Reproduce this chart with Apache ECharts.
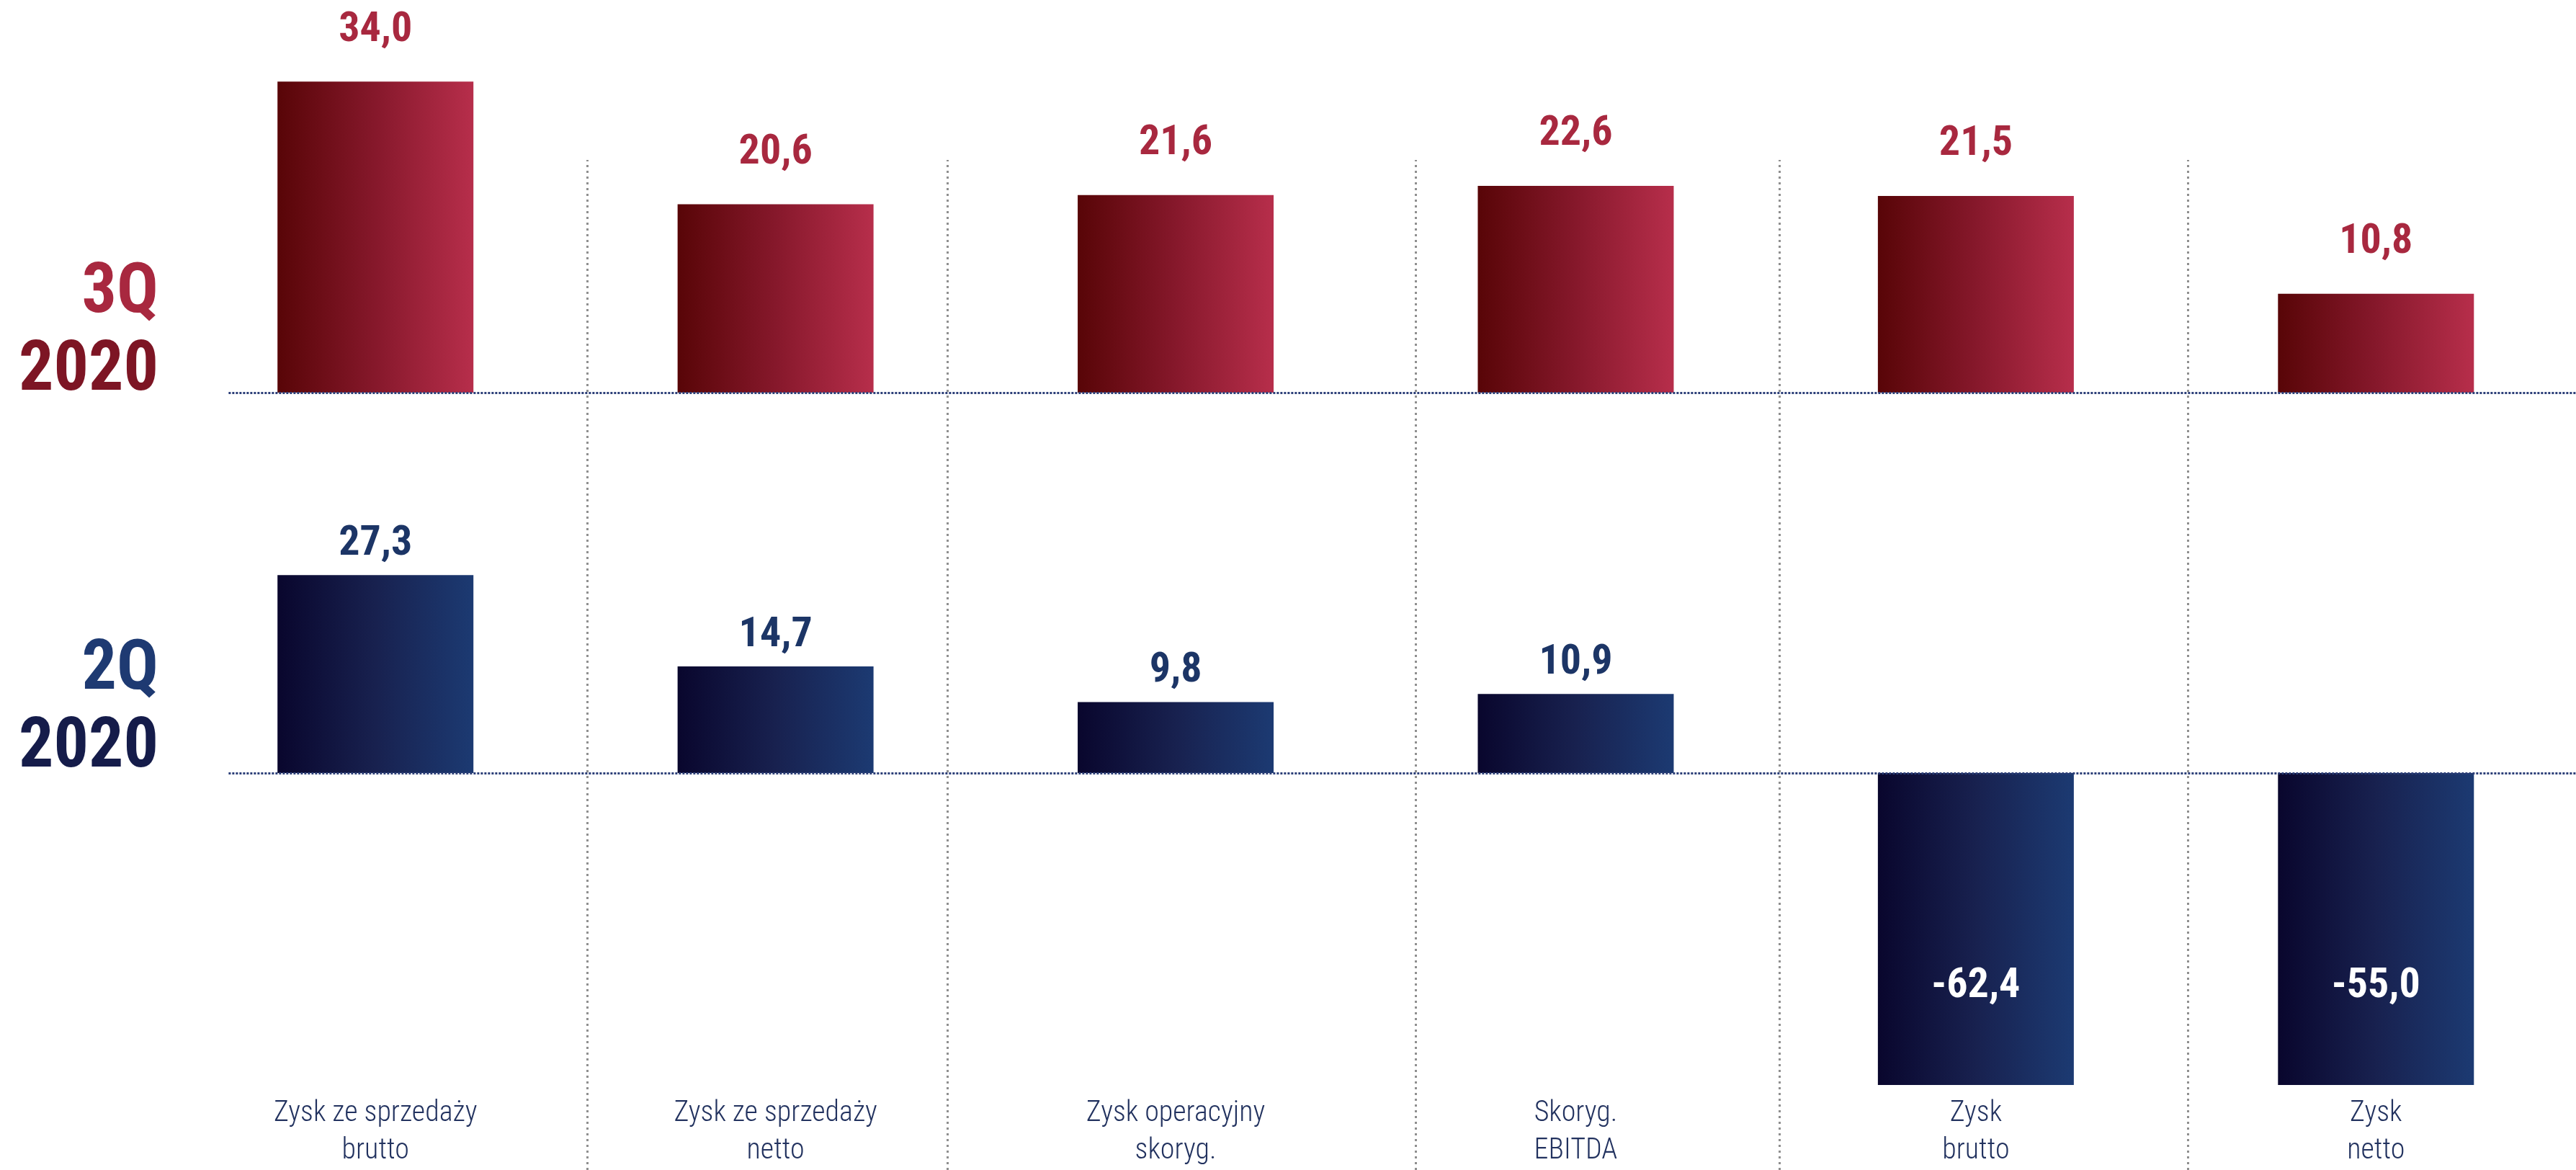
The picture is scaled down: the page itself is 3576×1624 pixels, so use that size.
<!DOCTYPE html>
<html>
<head>
<meta charset="utf-8">
<script src="https://cdn.jsdelivr.net/npm/echarts@6/dist/echarts.min.js"></script>
<style>
  html, body { margin: 0; padding: 0; background: #ffffff; }
  #chart { width: 3576px; height: 1624px; }
</style>
</head>
<body>
<div id="chart"></div>
<script>
// Categories (x axis) and results for two quarters, PLN m
const categories = [
  'Zysk ze sprzedaży\nbrutto',
  'Zysk ze sprzedaży\nnetto',
  'Zysk operacyjny\nskoryg.',
  'Skoryg.\nEBITDA',
  'Zysk\nbrutto',
  'Zysk\nnetto'
];
const q3_2020 = [34.0, 20.6, 21.6, 22.6, 21.5, 10.8];
const q2_2020 = [27.3, 14.7, 9.8, 10.9, -62.4, -55.0];

// Row captions on the left
const rowTitles = [
  { quarter: '3Q', year: '2020' },
  { quarter: '2Q', year: '2020' }
];

// ---- layout / style ----
const FONT = "Roboto, 'Liberation Sans', sans-serif";
const BOLD = 'bold condensed';
const LIGHT = '300 condensed';
const RED_LABEL = '#a8283f';
const BLUE_LABEL = '#1c3566';
const GRID_LEFT = 243.5;
const GRID_WIDTH = 3372;
// vertical dividers, expressed in category units (0 = first bar centre)
const dividerAt = [0.528, 1.428, 2.597, 3.508, 4.533];

const fmt = v => v.toFixed(1).replace('.', ',');

const redGradient = new echarts.graphic.LinearGradient(0, 0, 1, 0, [
  { offset: 0, color: '#580507' },
  { offset: 0.5, color: '#86182b' },
  { offset: 1, color: '#b72e4b' }
]);
const blueGradient = new echarts.graphic.LinearGradient(0, 0, 1, 0, [
  { offset: 0, color: '#09062d' },
  { offset: 0.5, color: '#18214f' },
  { offset: 1, color: '#1c3a72' }
]);

const hiddenCat = (gridIndex) => ({
  type: 'category', gridIndex, data: categories,
  axisLine: { show: false, onZero: false }, axisTick: { show: false },
  axisLabel: { show: false }, splitLine: { show: false }
});
const hiddenVal = (gridIndex) => ({
  type: 'value', gridIndex, min: -0.5, max: 5.5, show: false
});

const baselineStyle = { color: '#2c3f78', width: 3, type: [3, 2] };

const baseline = (xAxisIndex, yAxisIndex) => ({
  type: 'line', xAxisIndex, yAxisIndex, data: [], clip: false, silent: true,
  markLine: {
    silent: true, symbol: 'none', label: { show: false },
    lineStyle: baselineStyle, z: 5,
    data: [[{ coord: [-0.367, 0] }, { coord: [5.5, 0] }]]
  }
});

const titleFor = (t, top, light, dark) => ({
  text: '{a|' + t.quarter + '}\n{b|' + t.year + '}',
  left: 220, top, padding: 0,
  textAlign: 'right', textVerticalAlign: 'bottom',
  textStyle: {
    rich: {
      a: { fontFamily: FONT, fontSize: 96, fontWeight: BOLD, color: light, lineHeight: 108, align: 'right' },
      b: { fontFamily: FONT, fontSize: 96, fontWeight: BOLD, color: dark, lineHeight: 108, align: 'right' }
    }
  }
});

const chart = echarts.init(document.getElementById('chart'), null, { renderer: 'canvas' });

chart.setOption({
  backgroundColor: '#ffffff',
  animation: false,
  title: [
    titleFor(rowTitles[0], 571, '#a8283f', '#7d1524'),
    titleFor(rowTitles[1], 1094, '#1e3a72', '#151c4a')
  ],
  grid: [
    { left: GRID_LEFT, width: GRID_WIDTH, top: 37, height: 508 },
    { left: GRID_LEFT, width: GRID_WIDTH, top: 771, height: 745 },
    { left: GRID_LEFT, width: GRID_WIDTH, top: 222, height: 1402 }
  ],
  xAxis: [
    hiddenCat(0),
    {
      type: 'category', gridIndex: 1, data: categories, position: 'bottom',
      axisLine: { show: false, onZero: false }, axisTick: { show: false },
      splitLine: { show: false },
      axisLabel: {
        margin: 14, fontFamily: FONT, fontWeight: LIGHT, fontSize: 40, lineHeight: 52,
        color: '#22325f', interval: 0
      }
    },
    hiddenVal(0),
    hiddenVal(1),
    hiddenVal(2)
  ],
  yAxis: [
    { type: 'value', gridIndex: 0, min: 0, max: 40, show: false },
    { type: 'value', gridIndex: 1, min: -43, max: 30, show: false },
    { type: 'value', gridIndex: 2, min: 0, max: 1, show: false }
  ],
  series: [
    {
      // vertical dotted dividers between groups
      type: 'line', xAxisIndex: 4, yAxisIndex: 2, data: [], clip: false, silent: true,
      markLine: {
        silent: true, symbol: 'none', label: { show: false }, z: 1,
        lineStyle: { color: '#8f8f8f', width: 3, type: [3, 5] },
        data: dividerAt.map(x => ({ xAxis: x }))
      }
    },
    {
      name: '3Q 2020', type: 'bar', xAxisIndex: 0, yAxisIndex: 0,
      data: q3_2020, barWidth: 272, z: 3,
      itemStyle: { color: redGradient },
      label: {
        show: true, position: 'top', distance: 42,
        fontFamily: FONT, fontSize: 58, fontWeight: BOLD, color: RED_LABEL,
        formatter: p => fmt(p.value)
      }
    },
    {
      name: '2Q 2020', type: 'bar', xAxisIndex: 1, yAxisIndex: 1,
      data: q2_2020.map(v => v < 0
        ? { value: v, label: { position: 'inside', color: '#ffffff', offset: [0, 80] } }
        : v),
      barWidth: 272, z: 3,
      itemStyle: { color: blueGradient },
      label: {
        show: true, position: 'top', distance: 14,
        fontFamily: FONT, fontSize: 58, fontWeight: BOLD, color: BLUE_LABEL,
        formatter: p => fmt(p.value)
      }
    },
    baseline(2, 0),
    baseline(3, 1)
  ]
});
</script>
</body>
</html>
